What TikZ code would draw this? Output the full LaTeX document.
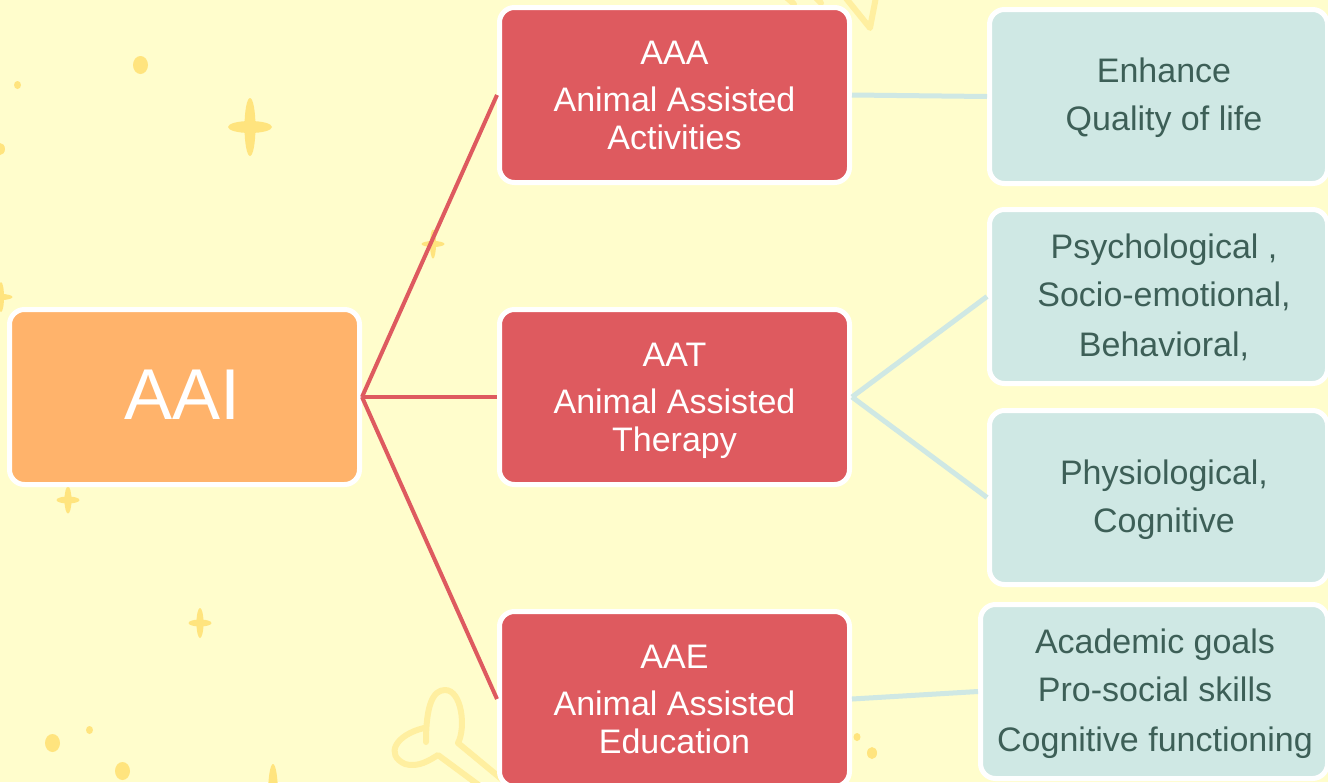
\documentclass[tikz,border=0pt]{standalone}
\usepackage{fontspec}
\setmainfont{Liberation Sans}
\definecolor{bgyellow}{HTML}{FFFDCC}
\definecolor{aaiorange}{HTML}{FFB36B}
\definecolor{boxred}{HTML}{DE5A5F}
\definecolor{boxgreen}{HTML}{CFE8E4}
\definecolor{textgreen}{HTML}{3D5F57}
\definecolor{staryellow}{HTML}{FFE47E}
\definecolor{boneyellow}{HTML}{FFEFA0}
\begin{document}
\begin{tikzpicture}[x=1pt,y=-1pt,
  basebox/.style={draw=white, line width=5pt, rounded corners=15pt, inner sep=0pt, minimum height=175pt},
  redbox/.style={basebox, fill=boxred, minimum width=350pt},
  orangebox/.style={basebox, fill=aaiorange, minimum width=350pt},
  greenbox/.style={basebox, fill=boxgreen, minimum width=338pt, minimum height=174pt},
  redtxt/.style={anchor=base, inner sep=0pt, text=white, font=\fontsize{34}{40}\selectfont},
  greentxt/.style={anchor=base, inner sep=0pt, text=textgreen, font=\fontsize{34}{40}\selectfont},
  redline/.style={draw=boxred, line width=4pt},
  greenline/.style={draw=boxgreen, line width=5pt},
  dotfill/.style={fill=staryellow},
  bone/.style={draw=boneyellow, line width=6pt, line cap=round, line join=round}]
% background
\fill[bgyellow] (0,0) rectangle (1328,782);
\useasboundingbox (0,0) rectangle (1328,782);
% decorations: dots
\fill[dotfill] (140.5,65) ellipse [x radius=7.5pt, y radius=9pt];
\fill[dotfill] (17.5,85) ellipse [x radius=3.5pt, y radius=4pt];
\fill[dotfill] (0,149) ellipse [x radius=5pt, y radius=6pt];
\fill[dotfill] (52.5,743) ellipse [x radius=7.5pt, y radius=9pt];
\fill[dotfill] (89.5,730) ellipse [x radius=3.5pt, y radius=4pt];
\fill[dotfill] (122.5,771) ellipse [x radius=7.5pt, y radius=9pt];
\fill[dotfill] (857,737) ellipse [x radius=3.5pt, y radius=4pt];
\fill[dotfill] (872,753) ellipse [x radius=5pt, y radius=6pt];
% decorations: sparkles
\fill[dotfill] (250,127) ellipse [x radius=5.5pt, y radius=29pt];
\fill[dotfill] (250,127) ellipse [x radius=22pt, y radius=6pt];
\fill[dotfill] (433,244) ellipse [x radius=3pt, y radius=14.5pt];
\fill[dotfill] (433,244) ellipse [x radius=11.5pt, y radius=3pt];
\fill[dotfill] (1,297) ellipse [x radius=3pt, y radius=15pt];
\fill[dotfill] (1,297) ellipse [x radius=11.5pt, y radius=3pt];
\fill[dotfill] (68,500) ellipse [x radius=3.5pt, y radius=13.5pt];
\fill[dotfill] (68,500) ellipse [x radius=11.5pt, y radius=3.5pt];
\fill[dotfill] (200,623) ellipse [x radius=3.5pt, y radius=15pt];
\fill[dotfill] (200,623) ellipse [x radius=11.5pt, y radius=3.5pt];
\fill[dotfill] (273,795) ellipse [x radius=5pt, y radius=31pt];
% decorations: bones
\draw[bone] (426,742) .. controls (426,705) and (433,690) .. (445,690) .. controls (462,690) and (466,728) .. (458,743) -- (510,786);
\draw[bone] (424,728) .. controls (395,735) and (385,755) .. (405,764) .. controls (418,768) and (430,760) .. (438,755) -- (488,792);
\draw[bone] (845,-3) -- (870,28) -- (876,-3);
\draw[bone] (786,-3) -- (794,4);
\draw[bone] (815,-3) -- (821,3);
% boxes
\node[orangebox] (aai) at (184.5,397) {};
\node[redbox] (aaa) at (674.5,95) {};
\node[redbox] (aat) at (674.5,397) {};
\node[redbox] (aae) at (674.5,699) {};
\node[greenbox] (enh) at (1158.5,96.5) {};
\node[greenbox] (psy) at (1158.5,296.5) {};
\node[greenbox] (phy) at (1158.5,497.5) {};
\node[greenbox, minimum width=347pt] (aca) at (1154,691.5) {};
% connectors
\draw[redline] (aai.east) -- (aaa.west);
\draw[redline] (aai.east) -- (aat.west);
\draw[redline] (aai.east) -- (aae.west);
\draw[greenline] (aaa.east) -- (enh.west);
\draw[greenline] (aat.east) -- (psy.west);
\draw[greenline] (aat.east) -- (phy.west);
\draw[greenline] (aae.east) -- (aca.west);
% texts
\node[anchor=base, inner sep=0pt, text=white, font=\fontsize{72}{80}\selectfont] (taai) at (182.5,419) {AAI};
\node[redtxt] (taaa1) at (674.5,64) {AAA};
\node[redtxt] (taaa2) at (674.5,111) {Animal Assisted};
\node[redtxt] (taaa3) at (674.5,149) {Activities};
\node[redtxt] (taat1) at (674.5,366) {AAT};
\node[redtxt] (taat2) at (674.5,413) {Animal Assisted};
\node[redtxt] (taat3) at (674.5,451) {Therapy};
\node[redtxt] (taae1) at (674.5,668) {AAE};
\node[redtxt] (taae2) at (674.5,715) {Animal Assisted};
\node[redtxt] (taae3) at (674.5,753) {Education};
\node[greentxt] (tenh1) at (1164,82) {Enhance};
\node[greentxt] (tenh2) at (1164,130) {Quality of life};
\node[greentxt] (tpsy1) at (1164,258) {Psychological ,};
\node[greentxt] (tpsy2) at (1164,306) {Socio-emotional,};
\node[greentxt] (tpsy3) at (1164,356) {Behavioral,};
\node[greentxt] (tphy1) at (1164,484) {Physiological,};
\node[greentxt] (tphy2) at (1164,532) {Cognitive};
\node[greentxt] (taca1) at (1155,653) {Academic goals};
\node[greentxt] (taca2) at (1155,701) {Pro-social skills};
\node[greentxt] (taca3) at (1155,751) {Cognitive functioning};
\end{tikzpicture}
\end{document}
